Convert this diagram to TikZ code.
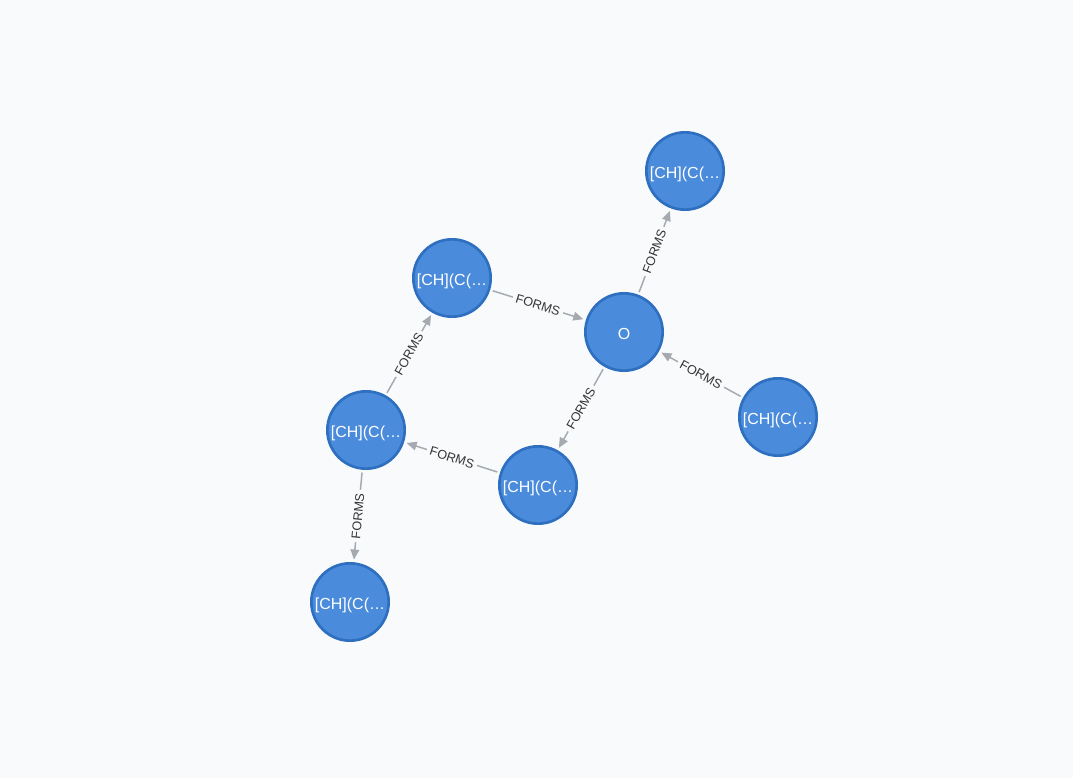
\documentclass[tikz,border=0pt]{standalone}
\usepackage{fontspec}
\setmainfont{Liberation Sans}
\usepackage{xcolor}
\usepackage{tikz}
\usetikzlibrary{
  positioning,
  arrows.meta
}
\definecolor{bgcol}{HTML}{F8FAFC}
\definecolor{molfill}{HTML}{4A8BDB}
\definecolor{molline}{HTML}{2F6FC0}
\definecolor{edgecol}{HTML}{A5A9B0}
\definecolor{labcol}{HTML}{333333}

\begin{document}
\begin{tikzpicture}[x=0.75pt,y=-0.75pt,
  mol/.style={circle,draw=molline,line width=2pt,fill=molfill,minimum size=58pt,
    inner sep=0pt,text=white,text height=11pt,text depth=0pt,
    font=\fontsize{12}{13}\selectfont},
  forms/.style={draw=edgecol,line width=1.1pt,-{Triangle[length=7.5pt,width=6.5pt]},
    shorten >=2pt,shorten <=2pt},
  lab/.style={midway,sloped,fill=bgcol,inner sep=2.5pt,text=labcol,
    font=\fontsize{9.5}{10}\selectfont}]
  % 背景
  \fill[bgcol] (0,0) rectangle (1073,778);
  \useasboundingbox (0,0) rectangle (1073,778);
  % ノード
  \node[mol] (o)  at (624,332) {O};
  \node[mol] (m1) at (685,171) {[CH](C(…};
  \node[mol] (m2) at (452,278) {[CH](C(…};
  \node[mol] (m3) at (778,417) {[CH](C(…};
  \node[mol] (m4) at (366,430) {[CH](C(…};
  \node[mol] (m5) at (538,485) {[CH](C(…};
  \node[mol] (m6) at (350,602) {[CH](C(…};
  % エッジ
  \draw[forms] (o)  -- (m1) node[lab]{FORMS};
  \draw[forms] (m2) -- (o)  node[lab]{FORMS};
  \draw[forms] (m3) -- (o)  node[lab]{FORMS};
  \draw[forms] (o)  -- (m5) node[lab]{FORMS};
  \draw[forms] (m5) -- (m4) node[lab]{FORMS};
  \draw[forms] (m4) -- (m2) node[lab]{FORMS};
  \draw[forms] (m4) -- (m6) node[lab]{FORMS};
\end{tikzpicture}
\end{document}
